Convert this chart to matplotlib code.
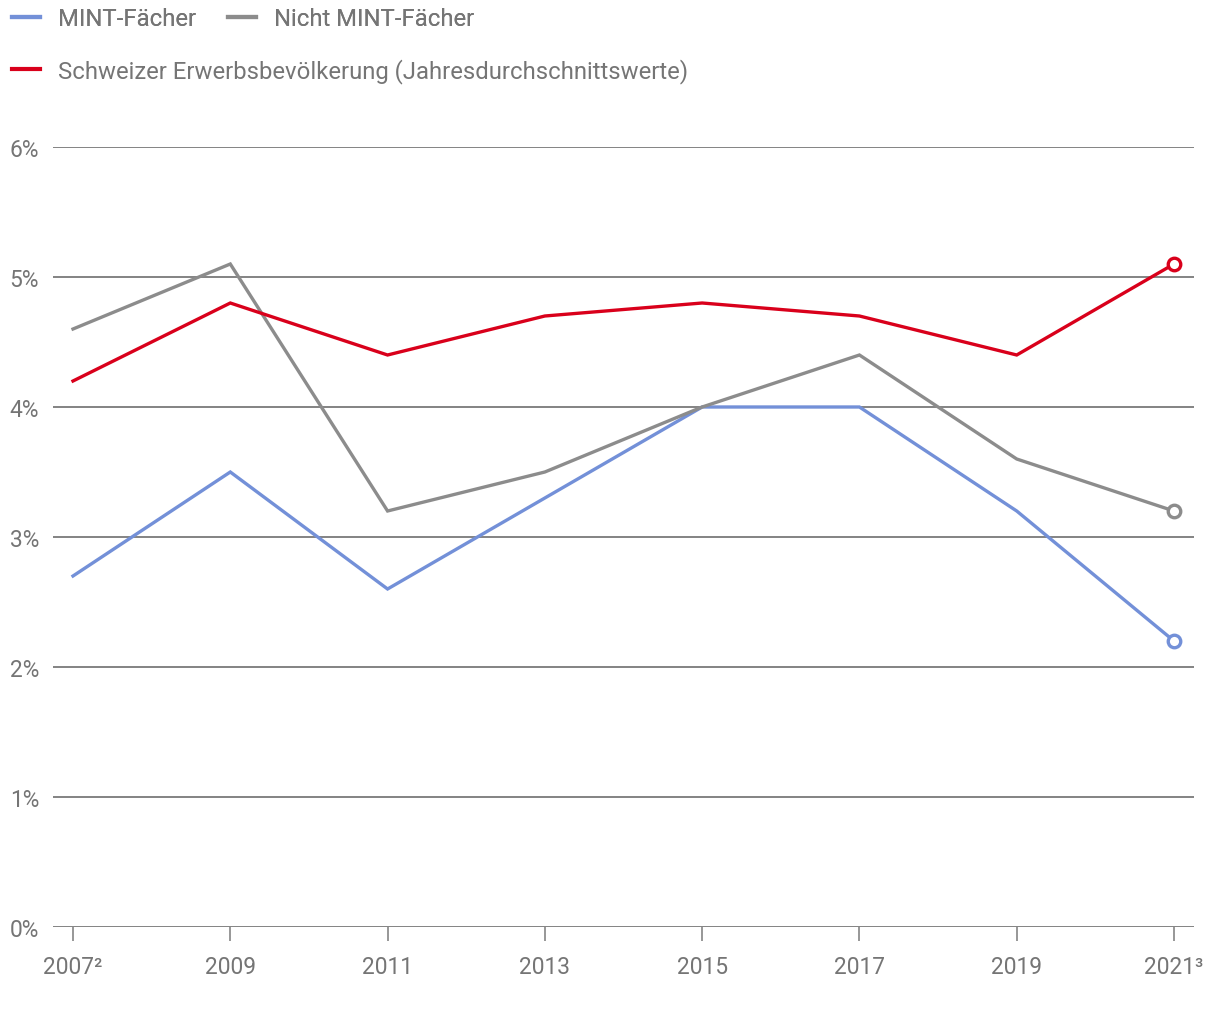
import matplotlib
matplotlib.use("Agg")
import matplotlib.pyplot as plt

plt.rcParams['font.family'] = ['Roboto', 'DejaVu Sans']

years = [2007, 2009, 2011, 2013, 2015, 2017, 2019, 2021]
year_labels = ["2007²", "2009", "2011", "2013", "2015", "2017", "2019", "2021³"]
mint = [2.7, 3.5, 2.6, 3.3, 4.0, 4.0, 3.2, 2.2]
nicht_mint = [4.6, 5.1, 3.2, 3.5, 4.0, 4.4, 3.6, 3.2]
schweiz = [4.2, 4.8, 4.4, 4.7, 4.8, 4.7, 4.4, 5.1]
y_ticks = [0, 1, 2, 3, 4, 5, 6]
y_labels = ["0%", "1%", "2%", "3%", "4%", "5%", "6%"]

names = ["MINT-Fächer", "Nicht MINT-Fächer", "Schweizer Erwerbsbevölkerung (Jahresdurchschnittswerte)"]
colors = ["#7390d8", "#8c8c8c", "#d9001b"]
text_color = "#757575"
grid_color = "#7a7a7a"

fig = plt.figure(figsize=(12.2, 10.2), dpi=100)
ax = fig.add_axes([53/1220, 92/1020, (1194-53)/1220, (928-148)/1020])

handles = []
for series, c, n in zip([mint, nicht_mint, schweiz], colors, names):
    h, = ax.plot(years, series, color=c, lw=2.4, label=n, zorder=3, solid_joinstyle='miter')
    ax.plot(years[-1:], series[-1:], 'o', ms=9, mfc='white', mec=c, mew=2.4, zorder=4)
    handles.append(h)

ax.set_xlim(2007 - 20/78.64, 2021 + 20/78.64)
ax.set_ylim(0, 6)
ax.set_yticks(y_ticks)
ax.set_yticklabels(y_labels)
ax.set_xticks(years)
ax.set_xticklabels(year_labels)
for yv in y_ticks:
    ax.axhline(yv, color=grid_color, lw=1.3, zorder=1)
for s in ax.spines.values():
    s.set_visible(False)
ax.tick_params(axis='y', length=0, pad=10, labelsize=16.4, labelcolor=text_color)
ax.tick_params(axis='x', length=10, width=1.1, color=grid_color, pad=10, labelsize=16.4, labelcolor=text_color)

leg_kw = dict(frameon=False, fontsize=17.2, labelcolor=text_color,
              handlelength=1.17, handletextpad=0.75, borderaxespad=0.0, borderpad=0.0)
leg1 = fig.legend(handles[:2], names[:2], loc='upper left', bbox_to_anchor=(12/1220, 0.992),
                  ncol=2, columnspacing=1.35, **leg_kw)
fig.add_artist(leg1)
for l in leg1.get_lines():
    l.set_linewidth(3)
leg2 = fig.legend(handles[2:], names[2:], loc='upper left', bbox_to_anchor=(12/1220, 0.942), **leg_kw)
for l in leg2.get_lines():
    l.set_linewidth(3)

fig.savefig("out.png", dpi=100, facecolor="white")
